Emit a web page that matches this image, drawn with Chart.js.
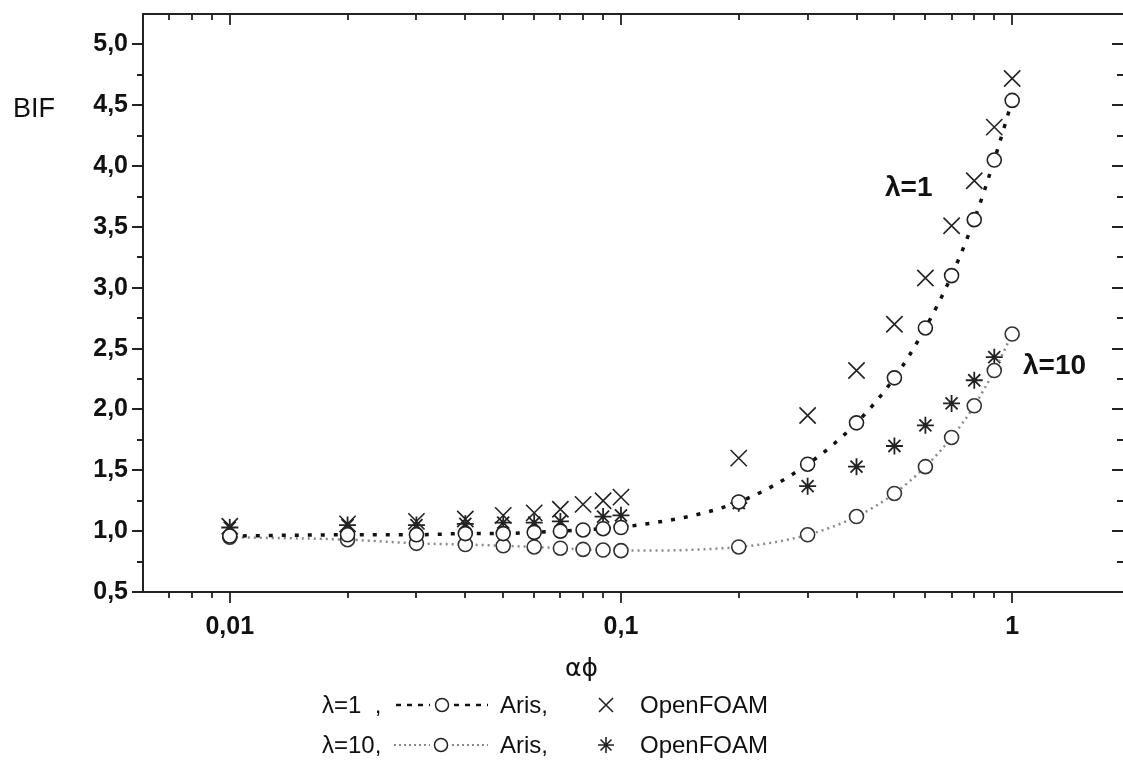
<!DOCTYPE html>
<html>
<head>
<meta charset="utf-8">
<script src="https://cdn.jsdelivr.net/npm/chart.js@4.4.1/dist/chart.umd.min.js"></script>
<style>
  body { margin: 0; background: #fff; }
  #wrap { position: relative; width: 1123px; height: 780px; overflow: hidden;
          font-family: "Liberation Sans", Arial, sans-serif; color: #111; }
  #chart { position: absolute; left: 0; top: 0; }
  .txt { position: absolute; white-space: nowrap; line-height: 1; transform: translateY(-50%); }
  .lam { font-size: 28px; font-weight: bold; }
  .leg { font-size: 24px; }
  .sym { position: absolute; transform: translateY(-50%); }
</style>
</head>
<body>
<div id="wrap">
  <canvas id="chart" width="1123" height="780"></canvas>

  <div class="txt" style="left:13px; top:108px; font-size:27px;">BIF</div>
  <div class="txt" style="left:565px; top:667px; font-size:25px; font-family:'DejaVu Sans', sans-serif;">αϕ</div>
  <div class="txt lam" style="left:885px; top:187px;">λ=1</div>
  <div class="txt lam" style="left:1023px; top:365px;">λ=10</div>

  <!-- legenda linha 1 -->
  <div class="txt leg" style="left:322px; top:705px;">λ=1&nbsp;&nbsp;,</div>
  <svg class="sym" style="left:394px; top:705px;" width="96" height="20">
    <line x1="2" y1="10" x2="36" y2="10" stroke="#111" stroke-width="2.5" stroke-dasharray="5,6"/>
    <circle cx="48" cy="10" r="6.5" fill="#fff" stroke="#222" stroke-width="1.5"/>
    <line x1="60" y1="10" x2="94" y2="10" stroke="#111" stroke-width="2.5" stroke-dasharray="5,6"/>
  </svg>
  <div class="txt leg" style="left:500px; top:705px;">Aris,</div>
  <svg class="sym" style="left:597px; top:705px;" width="18" height="18">
    <path d="M2 2 L16 16 M16 2 L2 16" stroke="#222" stroke-width="1.6"/>
  </svg>
  <div class="txt leg" style="left:640px; top:705px;">OpenFOAM</div>

  <!-- legenda linha 2 -->
  <div class="txt leg" style="left:322px; top:745px;">λ=10,</div>
  <svg class="sym" style="left:392px; top:745px;" width="98" height="20">
    <line x1="2" y1="10" x2="38" y2="10" stroke="#888" stroke-width="2" stroke-dasharray="2,3"/>
    <circle cx="49" cy="10" r="6.5" fill="#fff" stroke="#222" stroke-width="1.5"/>
    <line x1="60" y1="10" x2="96" y2="10" stroke="#888" stroke-width="2" stroke-dasharray="2,3"/>
  </svg>
  <div class="txt leg" style="left:500px; top:745px;">Aris,</div>
  <svg class="sym" style="left:597px; top:745px;" width="18" height="18">
    <path d="M9 1 L9 17 M1 9 L17 9 M3.5 3.5 L14.5 14.5 M14.5 3.5 L3.5 14.5" stroke="#222" stroke-width="1.6"/>
  </svg>
  <div class="txt leg" style="left:640px; top:745px;">OpenFOAM</div>
</div>

<script>
// eixo x (alfa*phi) e valores
const alphaPhi = [0.01, 0.02, 0.03, 0.04, 0.05, 0.06, 0.07, 0.08, 0.09, 0.1,
                  0.2, 0.3, 0.4, 0.5, 0.6, 0.7, 0.8, 0.9, 1];
const arisLambda1  = [0.96, 0.97, 0.97, 0.98, 0.98, 0.99, 1.00, 1.01, 1.02, 1.03,
                      1.24, 1.55, 1.89, 2.26, 2.67, 3.10, 3.56, 4.05, 4.54];
const arisLambda10 = [0.95, 0.93, 0.90, 0.89, 0.88, 0.87, 0.86, 0.85, 0.845, 0.84,
                      0.87, 0.97, 1.12, 1.31, 1.53, 1.77, 2.03, 2.32, 2.62];
const foamLambda1  = [1.04, 1.06, 1.08, 1.10, 1.13, 1.15, 1.18, 1.22, 1.25, 1.28,
                      1.60, 1.95, 2.32, 2.70, 3.08, 3.51, 3.88, 4.32, 4.72];
const foamLambda10 = [1.03, 1.05, 1.05, 1.06, 1.07, 1.07, 1.08, null, 1.12, 1.13,
                      1.23, 1.37, 1.53, 1.70, 1.87, 2.05, 2.24, 2.43, null];

// marcas dos eixos
const xMajor = [0.01, 0.1, 1];
const xMinor = [0.007, 0.008, 0.009, 0.02, 0.03, 0.04, 0.05, 0.06, 0.07, 0.08, 0.09,
                0.2, 0.3, 0.4, 0.5, 0.6, 0.7, 0.8, 0.9];
const yMajor = [0.5, 1.0, 1.5, 2.0, 2.5, 3.0, 3.5, 4.0, 4.5, 5.0];
const yMinor = [0.75, 1.25, 1.75, 2.25, 2.75, 3.25, 3.75, 4.25, 4.75];

// área do gráfico desejada (px)
const area = { left: 143, top: 14, right: 1123, bottom: 592 };

function toPoints(values) {
    return alphaPhi
        .map((x, i) => ({ x: x, y: values[i] }))
        .filter(p => p.y !== null);
}

const fmt = v => String(v).replace('.', ',');
const tickFont = { family: '"Liberation Sans", Arial, sans-serif', size: 25, weight: 'bold' };

// desenha moldura e marcas (maiores e menores) dos quatro lados
const axisTicks = {
    id: 'axisTicks',
    afterDraw(chart) {
        const { ctx, chartArea: a, scales: { x, y } } = chart;
        ctx.save();
        ctx.strokeStyle = '#222';
        ctx.lineWidth = 2;
        ctx.beginPath();
        ctx.moveTo(a.left, a.top);
        ctx.lineTo(a.right, a.top);
        ctx.stroke();

        ctx.lineWidth = 1.8;
        ctx.beginPath();
        const xt = (v, len) => {
            const px = Math.round(x.getPixelForValue(v));
            ctx.moveTo(px, a.bottom);
            ctx.lineTo(px, a.bottom + len);
            ctx.moveTo(px, a.top);
            ctx.lineTo(px, a.top + len);
        };
        const yt = (v, len) => {
            const py = Math.round(y.getPixelForValue(v));
            ctx.moveTo(a.left, py);
            ctx.lineTo(a.left - len, py);
            ctx.moveTo(a.right, py);
            ctx.lineTo(a.right - len, py);
        };
        xMajor.forEach(v => xt(v, 11));
        xMinor.forEach(v => xt(v, 6));
        yMajor.forEach(v => yt(v, 11));
        yMinor.forEach(v => yt(v, 6));
        ctx.stroke();
        ctx.restore();
    }
};

const ctx = document.getElementById('chart').getContext('2d');

const chart = new Chart(ctx, {
    type: 'line',
    data: {
        datasets: [
            {
                label: 'λ=1 Aris',
                data: toPoints(arisLambda1),
                borderColor: '#111',
                borderWidth: 3.5,
                borderDash: [4, 9],
                cubicInterpolationMode: 'monotone',
                pointStyle: 'circle',
                pointRadius: 7,
                pointBorderWidth: 1.6,
                pointBorderColor: '#222',
                pointBackgroundColor: '#fff'
            },
            {
                label: 'λ=10 Aris',
                data: toPoints(arisLambda10),
                borderColor: '#8a8a8a',
                borderWidth: 2.5,
                borderDash: [2, 4],
                cubicInterpolationMode: 'monotone',
                pointStyle: 'circle',
                pointRadius: 7,
                pointBorderWidth: 1.6,
                pointBorderColor: '#333',
                pointBackgroundColor: '#fff'
            },
            {
                label: 'λ=1 OpenFOAM',
                data: toPoints(foamLambda1),
                showLine: false,
                pointStyle: 'crossRot',
                pointRadius: 11.5,
                pointBorderWidth: 1.6,
                pointBorderColor: '#222'
            },
            {
                label: 'λ=10 OpenFOAM',
                data: toPoints(foamLambda10),
                showLine: false,
                pointStyle: 'star',
                pointRadius: 8.5,
                pointBorderWidth: 1.8,
                pointBorderColor: '#222'
            }
        ]
    },
    options: {
        responsive: false,
        animation: false,
        layout: { autoPadding: false, padding: { top: area.top, right: 0, bottom: 0, left: 0 } },
        plugins: {
            legend: { display: false },
            tooltip: { enabled: false }
        },
        scales: {
            x: {
                type: 'logarithmic',
                min: 0.006,
                max: 1.92,
                afterBuildTicks: s => { s.ticks = xMajor.map(v => ({ value: v })); },
                afterFit: s => {
                    s.height = 780 - area.bottom;
                    s.paddingLeft = 0;
                    s.paddingRight = 0;
                },
                grid: { display: false, drawTicks: false },
                border: { display: true, color: '#222', width: 2 },
                ticks: {
                    autoSkip: false,
                    maxRotation: 0,
                    padding: 20,
                    color: '#111',
                    font: tickFont,
                    callback: v => fmt(v)
                }
            },
            y: {
                min: 0.5,
                max: 5.25,
                afterBuildTicks: s => { s.ticks = yMajor.map(v => ({ value: v })); },
                afterFit: s => {
                    s.width = area.left;
                    s.paddingTop = 0;
                    s.paddingBottom = 0;
                },
                grid: { display: false, drawTicks: false },
                border: { display: true, color: '#222', width: 2 },
                ticks: {
                    padding: 15,
                    color: '#111',
                    font: tickFont,
                    callback: v => v.toFixed(1).replace('.', ',')
                }
            }
        }
    },
    plugins: [axisTicks]
});

// corrige a área se o layout deixou sobra à direita
const sobra = area.right - chart.chartArea.right;
if (Math.abs(sobra) > 0.5) {
    chart.options.layout.padding.right = -sobra;
    chart.update();
}
</script>
</body>
</html>
